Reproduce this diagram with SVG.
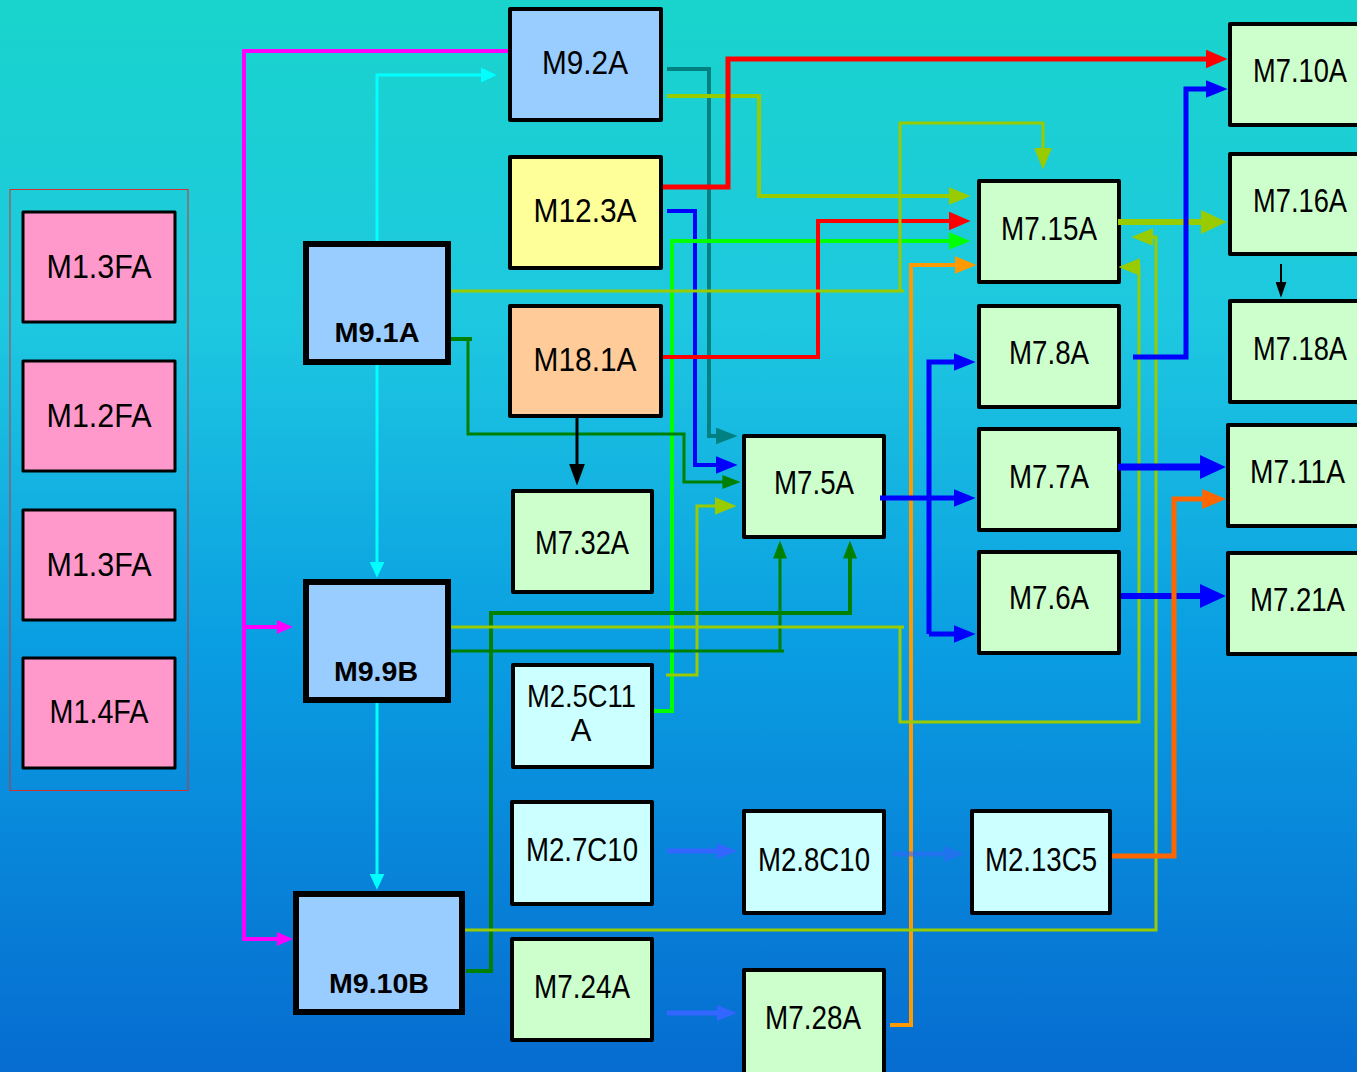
<svg xmlns="http://www.w3.org/2000/svg" width="1357" height="1072" viewBox="0 0 1357 1072">
<defs>
<linearGradient id="bg" x1="0" y1="0" x2="0" y2="1">
<stop offset="0" stop-color="#19d4cc"/>
<stop offset="0.3" stop-color="#1ec8e0"/>
<stop offset="0.6" stop-color="#0a9ee2"/>
<stop offset="1" stop-color="#066cd0"/>
</linearGradient>
<marker id="sMag" viewBox="0 0 10 10" refX="7" refY="5" markerUnits="userSpaceOnUse" markerWidth="16" markerHeight="14" orient="auto" preserveAspectRatio="none"><path d="M0,0L10,5L0,10z" fill="#ff00ff"/></marker>
<marker id="sCy" viewBox="0 0 10 10" refX="7" refY="5" markerUnits="userSpaceOnUse" markerWidth="16" markerHeight="15" orient="auto" preserveAspectRatio="none"><path d="M0,0L10,5L0,10z" fill="#00ffff"/></marker>
<marker id="sBk" viewBox="0 0 10 10" refX="7" refY="5" markerUnits="userSpaceOnUse" markerWidth="16" markerHeight="11" orient="auto" preserveAspectRatio="none"><path d="M0,0L10,5L0,10z" fill="#000"/></marker>
<marker id="mBk" viewBox="0 0 10 10" refX="7" refY="5" markerUnits="userSpaceOnUse" markerWidth="22" markerHeight="16" orient="auto" preserveAspectRatio="none"><path d="M0,0L10,5L0,10z" fill="#000"/></marker>
<marker id="mTl" viewBox="0 0 10 10" refX="7" refY="5" markerUnits="userSpaceOnUse" markerWidth="22" markerHeight="17" orient="auto" preserveAspectRatio="none"><path d="M0,0L10,5L0,10z" fill="#008080"/></marker>
<marker id="mYg" viewBox="0 0 10 10" refX="7" refY="5" markerUnits="userSpaceOnUse" markerWidth="22" markerHeight="18" orient="auto" preserveAspectRatio="none"><path d="M0,0L10,5L0,10z" fill="#99cc00"/></marker>
<marker id="mRd" viewBox="0 0 10 10" refX="7" refY="5" markerUnits="userSpaceOnUse" markerWidth="22" markerHeight="19" orient="auto" preserveAspectRatio="none"><path d="M0,0L10,5L0,10z" fill="#ff0000"/></marker>
<marker id="mBl" viewBox="0 0 10 10" refX="7" refY="5" markerUnits="userSpaceOnUse" markerWidth="22" markerHeight="18" orient="auto" preserveAspectRatio="none"><path d="M0,0L10,5L0,10z" fill="#0000ff"/></marker>
<marker id="mGr" viewBox="0 0 10 10" refX="7" refY="5" markerUnits="userSpaceOnUse" markerWidth="22" markerHeight="18" orient="auto" preserveAspectRatio="none"><path d="M0,0L10,5L0,10z" fill="#00ff00"/></marker>
<marker id="mOr" viewBox="0 0 10 10" refX="7" refY="5" markerUnits="userSpaceOnUse" markerWidth="22" markerHeight="18" orient="auto" preserveAspectRatio="none"><path d="M0,0L10,5L0,10z" fill="#ff9900"/></marker>
<marker id="mOrr" viewBox="0 0 10 10" refX="7" refY="5" markerUnits="userSpaceOnUse" markerWidth="24" markerHeight="20" orient="auto" preserveAspectRatio="none"><path d="M0,0L10,5L0,10z" fill="#ff6600"/></marker>
<marker id="mDg" viewBox="0 0 10 10" refX="7" refY="5" markerUnits="userSpaceOnUse" markerWidth="18" markerHeight="14" orient="auto" preserveAspectRatio="none"><path d="M0,0L10,5L0,10z" fill="#008000"/></marker>
<marker id="mLb" viewBox="0 0 10 10" refX="7" refY="5" markerUnits="userSpaceOnUse" markerWidth="20" markerHeight="16" orient="auto" preserveAspectRatio="none"><path d="M0,0L10,5L0,10z" fill="#3366ff"/></marker>
<marker id="lYg" viewBox="0 0 10 10" refX="7" refY="5" markerUnits="userSpaceOnUse" markerWidth="26" markerHeight="24" orient="auto" preserveAspectRatio="none"><path d="M0,0L10,5L0,10z" fill="#99cc00"/></marker>
<marker id="lBl" viewBox="0 0 10 10" refX="7" refY="5" markerUnits="userSpaceOnUse" markerWidth="26" markerHeight="24" orient="auto" preserveAspectRatio="none"><path d="M0,0L10,5L0,10z" fill="#0000ff"/></marker>
</defs>
<style>
.n rect{stroke:#000;stroke-width:4;stroke-linejoin:round}
.pk rect{fill:#ff99cc;stroke-width:3}
.b9 rect{fill:#99ccff;stroke-width:6;stroke-linejoin:miter}
.g rect{fill:#ccffcc}
.c rect{fill:#ccffff}
.t{font-family:"Liberation Sans Narrow","Liberation Sans",Arial,sans-serif;font-size:33px;fill:#000;text-anchor:middle}
.tb{font-family:"Liberation Sans",Arial,sans-serif;font-size:28px;font-weight:bold;fill:#000;text-anchor:middle}
.k path{fill:none;stroke-linejoin:miter}
</style>
<rect x="0" y="0" width="1357" height="1072" fill="url(#bg)"/>
<rect x="10" y="189.5" width="178" height="601" fill="none" stroke="#cc3333" stroke-width="1"/>

<g id="M1.3FA_a" class="n pk"><rect x="23" y="212" width="152" height="110"/><text class="t" x="99" y="278" textLength="105" lengthAdjust="spacingAndGlyphs">M1.3FA</text></g>
<g id="M1.2FA" class="n pk"><rect x="23" y="361" width="152" height="110"/><text class="t" x="99" y="427" textLength="105" lengthAdjust="spacingAndGlyphs">M1.2FA</text></g>
<g id="M1.3FA_b" class="n pk"><rect x="23" y="510" width="152" height="110"/><text class="t" x="99" y="576" textLength="105" lengthAdjust="spacingAndGlyphs">M1.3FA</text></g>
<g id="M1.4FA" class="n pk"><rect x="23" y="658" width="152" height="110"/><text class="t" x="99" y="723" textLength="99" lengthAdjust="spacingAndGlyphs">M1.4FA</text></g>

<g id="M9.2A" class="n"><rect x="510" y="9" width="151" height="111" fill="#99ccff"/><text class="t" x="585" y="74" textLength="86" lengthAdjust="spacingAndGlyphs">M9.2A</text></g>
<g id="M12.3A" class="n"><rect x="510" y="157" width="151" height="111" fill="#ffff99"/><text class="t" x="585" y="222" textLength="103" lengthAdjust="spacingAndGlyphs">M12.3A</text></g>
<g id="M18.1A" class="n"><rect x="510" y="306" width="151" height="110" fill="#ffcc99"/><text class="t" x="585" y="371" textLength="103" lengthAdjust="spacingAndGlyphs">M18.1A</text></g>

<g id="M9.1A" class="n b9"><rect x="306" y="244" width="142" height="118"/><text class="tb" x="377" y="342" textLength="85" lengthAdjust="spacingAndGlyphs">M9.1A</text></g>
<g id="M9.9B" class="n b9"><rect x="306" y="582" width="142" height="118"/><text class="tb" x="376" y="681" textLength="84" lengthAdjust="spacingAndGlyphs">M9.9B</text></g>
<g id="M9.10B" class="n b9"><rect x="296" y="894" width="166" height="118"/><text class="tb" x="379" y="993" textLength="100" lengthAdjust="spacingAndGlyphs">M9.10B</text></g>

<g id="M7.32A" class="n g"><rect x="513" y="491" width="139" height="101"/><text class="t" x="582" y="554" textLength="94" lengthAdjust="spacingAndGlyphs">M7.32A</text></g>
<g id="M2.5C11A" class="n c"><rect x="513" y="665" width="139" height="102"/><text class="t" x="581.5" y="707" textLength="109" lengthAdjust="spacingAndGlyphs" style="font-size:31px">M2.5C11</text><text class="t" x="581" y="741" style="font-size:31px">A</text></g>
<g id="M2.7C10" class="n c"><rect x="512" y="802" width="140" height="102"/><text class="t" x="582" y="861" textLength="112" lengthAdjust="spacingAndGlyphs">M2.7C10</text></g>
<g id="M7.24A" class="n g"><rect x="512" y="939" width="140" height="101"/><text class="t" x="582" y="998" textLength="96" lengthAdjust="spacingAndGlyphs">M7.24A</text></g>
<g id="M2.8C10" class="n c"><rect x="744" y="811" width="140" height="102"/><text class="t" x="814" y="871" textLength="112" lengthAdjust="spacingAndGlyphs">M2.8C10</text></g>
<g id="M2.13C5" class="n c"><rect x="972" y="811" width="138" height="102"/><text class="t" x="1041" y="871" textLength="112" lengthAdjust="spacingAndGlyphs">M2.13C5</text></g>
<g id="M7.28A" class="n g"><rect x="744" y="970" width="140" height="110"/><text class="t" x="813" y="1029" textLength="96" lengthAdjust="spacingAndGlyphs">M7.28A</text></g>
<g id="M7.5A" class="n g"><rect x="744" y="436" width="140" height="101"/><text class="t" x="814" y="494" textLength="80" lengthAdjust="spacingAndGlyphs">M7.5A</text></g>
<g id="M7.15A" class="n g"><rect x="979" y="181" width="140" height="101"/><text class="t" x="1049" y="240" textLength="96" lengthAdjust="spacingAndGlyphs">M7.15A</text></g>
<g id="M7.8A" class="n g"><rect x="979" y="306" width="140" height="101"/><text class="t" x="1049" y="364" textLength="80" lengthAdjust="spacingAndGlyphs">M7.8A</text></g>
<g id="M7.7A" class="n g"><rect x="979" y="429" width="140" height="101"/><text class="t" x="1049" y="488" textLength="80" lengthAdjust="spacingAndGlyphs">M7.7A</text></g>
<g id="M7.6A" class="n g"><rect x="979" y="552" width="140" height="101"/><text class="t" x="1049" y="609" textLength="80" lengthAdjust="spacingAndGlyphs">M7.6A</text></g>
<g id="M7.10A" class="n g"><rect x="1230" y="24" width="150" height="101"/><text class="t" x="1300" y="82" textLength="94" lengthAdjust="spacingAndGlyphs">M7.10A</text></g>
<g id="M7.16A" class="n g"><rect x="1230" y="154" width="150" height="100"/><text class="t" x="1300" y="212" textLength="94" lengthAdjust="spacingAndGlyphs">M7.16A</text></g>
<g id="M7.18A" class="n g"><rect x="1230" y="301" width="150" height="101"/><text class="t" x="1300" y="360" textLength="94" lengthAdjust="spacingAndGlyphs">M7.18A</text></g>
<g id="M7.11A" class="n g"><rect x="1228" y="425" width="150" height="101"/><text class="t" x="1297.5" y="483" textLength="95" lengthAdjust="spacingAndGlyphs">M7.11A</text></g>
<g id="M7.21A" class="n g"><rect x="1228" y="553" width="150" height="101"/><text class="t" x="1297.5" y="611" textLength="95" lengthAdjust="spacingAndGlyphs">M7.21A</text></g>

<g id="connectors" class="k">
<path d="M508,51H244V939H288" stroke="#ff00ff" stroke-width="4" marker-end="url(#sMag)"/>
<path d="M244,627H288" stroke="#ff00ff" stroke-width="4" marker-end="url(#sMag)"/>
<path d="M377,241V75H492" stroke="#00ffff" stroke-width="3" marker-end="url(#sCy)"/>
<path d="M377,365V573" stroke="#00ffff" stroke-width="3" marker-end="url(#sCy)"/>
<path d="M377,703V885" stroke="#00ffff" stroke-width="3" marker-end="url(#sCy)"/>
<path d="M667,69H709V436H731" stroke="#008080" stroke-width="4" marker-end="url(#mTl)"/>
<path d="M667,96H759V196H964" stroke="#99cc00" stroke-width="4" marker-end="url(#mYg)"/>
<path d="M663,187H728V59H1221" stroke="#ff0000" stroke-width="5" marker-end="url(#mRd)"/>
<path d="M667,211H695V465H731" stroke="#0000ff" stroke-width="4" marker-end="url(#mBl)"/>
<path d="M654,711H672V241H964" stroke="#00ff00" stroke-width="4" marker-end="url(#mGr)"/>
<path d="M663,357H818V221H964" stroke="#ff0000" stroke-width="4" marker-end="url(#mRd)"/>
<path d="M890,1025H911V265H970" stroke="#ff9900" stroke-width="4" marker-end="url(#mOr)"/>
<path d="M451,291H904" stroke="#99cc00" stroke-width="3"/>
<path d="M900,291V123H1043V163" stroke="#99cc00" stroke-width="3" marker-end="url(#mYg)"/>
<path d="M451,339H472" stroke="#008000" stroke-width="4"/>
<path d="M468,339V434H684V482H735" stroke="#008000" stroke-width="3" marker-end="url(#mDg)"/>
<path d="M577,418V479" stroke="#000" stroke-width="3" marker-end="url(#mBk)"/>
<path d="M666,675H697V506H730" stroke="#99cc00" stroke-width="3" marker-end="url(#mYg)"/>
<path d="M466,971H491V613H850V546" stroke="#008000" stroke-width="4" marker-end="url(#mDg)"/>
<path d="M451,651H784" stroke="#008000" stroke-width="3"/>
<path d="M780,651V546" stroke="#008000" stroke-width="3" marker-end="url(#mDg)"/>
<path d="M451,627H904" stroke="#99cc00" stroke-width="3"/>
<path d="M900,627V722H1139V267H1125" stroke="#99cc00" stroke-width="3" marker-end="url(#mYg)"/>
<path d="M465,930H1156V237H1138" stroke="#99cc00" stroke-width="3" marker-end="url(#mYg)"/>
<path d="M1118,222H1219" stroke="#99cc00" stroke-width="6" marker-end="url(#lYg)"/>
<path d="M1281,264V293" stroke="#000" stroke-width="2" marker-end="url(#sBk)"/>
<path d="M1133,357H1186V89H1221" stroke="#0000ff" stroke-width="5" marker-end="url(#mBl)"/>
<path d="M880,498H969" stroke="#0000ff" stroke-width="5" marker-end="url(#mBl)"/>
<path d="M929,634V362H969" stroke="#0000ff" stroke-width="5" marker-end="url(#mBl)"/>
<path d="M929,634H969" stroke="#0000ff" stroke-width="5" marker-end="url(#mBl)"/>
<path d="M1118,467H1218" stroke="#0000ff" stroke-width="7" marker-end="url(#lBl)"/>
<path d="M1121,596H1218" stroke="#0000ff" stroke-width="6" marker-end="url(#lBl)"/>
<path d="M1112,856H1174V499H1219" stroke="#ff6600" stroke-width="5" marker-end="url(#mOrr)"/>
<path d="M667,851H731" stroke="#3366ff" stroke-width="5" marker-end="url(#mLb)"/>
<path d="M893,854H958" stroke="#3366ff" stroke-width="5" opacity="0.55" marker-end="url(#mLb)"/>
<path d="M667,1013H731" stroke="#3366ff" stroke-width="5" marker-end="url(#mLb)"/>
</g>
</svg>
